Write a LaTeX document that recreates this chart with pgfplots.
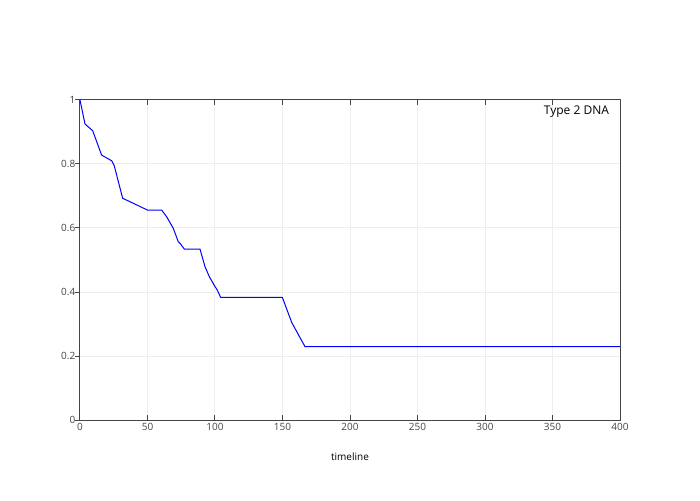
\documentclass[border=0pt]{standalone}
\usepackage{pgfplots}
\pgfplotsset{compat=1.18}
\usepackage{fontspec}
\setmainfont{Open Sans}
\definecolor{axgray}{HTML}{444444}
\definecolor{gridgray}{HTML}{EEEEEE}
\begin{document}
\begin{tikzpicture}
\begin{axis}[
  scale only axis,
  width=405pt, height=240pt,
  xmin=0, xmax=400, ymin=0, ymax=1,
  xtick={0,50,...,400},
  ytick={0,0.2,0.4,0.6,0.8,1},
  yticklabels={0,0.2,0.4,0.6,0.8,1},
  /pgf/number format/assume math mode=true,
  ticklabel style={font=\fontsize{7.5}{9}\selectfont, text=axgray},
  xtick pos=both, ytick pos=left,
  tick align=inside,
  major tick length=3.75pt,
  y tick style={xshift=-3.75pt, axgray, line width=0.75pt},
  x tick style={axgray, line width=0.75pt},
  yticklabel style={xshift=0pt},
  xticklabel style={yshift=1pt},
  grid=major,
  major grid style={gridgray, line width=0.75pt},
  axis line style={axgray, line width=0.75pt},
  xlabel={timeline},
  xlabel style={font=\fontsize{7.5}{9}\selectfont, at={(axis description cs:0.5,0)}, anchor=center, yshift=-27.75pt},
  clip=false,
]
\addplot[blue, line width=0.75pt] coordinates {
(0,1) (3.7,0.925) (9.4,0.904) (16,0.828) (23.5,0.81) (25.4,0.794) (31.6,0.693)
(50,0.656) (60.5,0.656) (64.2,0.635) (69.1,0.599) (72.8,0.557) (74.1,0.552)
(77.3,0.534) (88.9,0.534) (92.6,0.479) (95.8,0.448) (100,0.417) (101.7,0.406)
(104.2,0.383) (149.9,0.383) (156.8,0.305) (166.7,0.229) (400,0.229)
};
\node[anchor=east, font=\fontsize{9}{11}\selectfont, inner sep=0pt] at (axis cs:392,0.9625) {Type 2 DNA};
\coordinate (sw) at (rel axis cs:0,0);
\coordinate (ne) at (rel axis cs:1,1);
\end{axis}
\useasboundingbox ([shift={(-60pt,-60pt)}]sw) rectangle ([shift={(60pt,75pt)}]ne);
\end{tikzpicture}
\end{document}
